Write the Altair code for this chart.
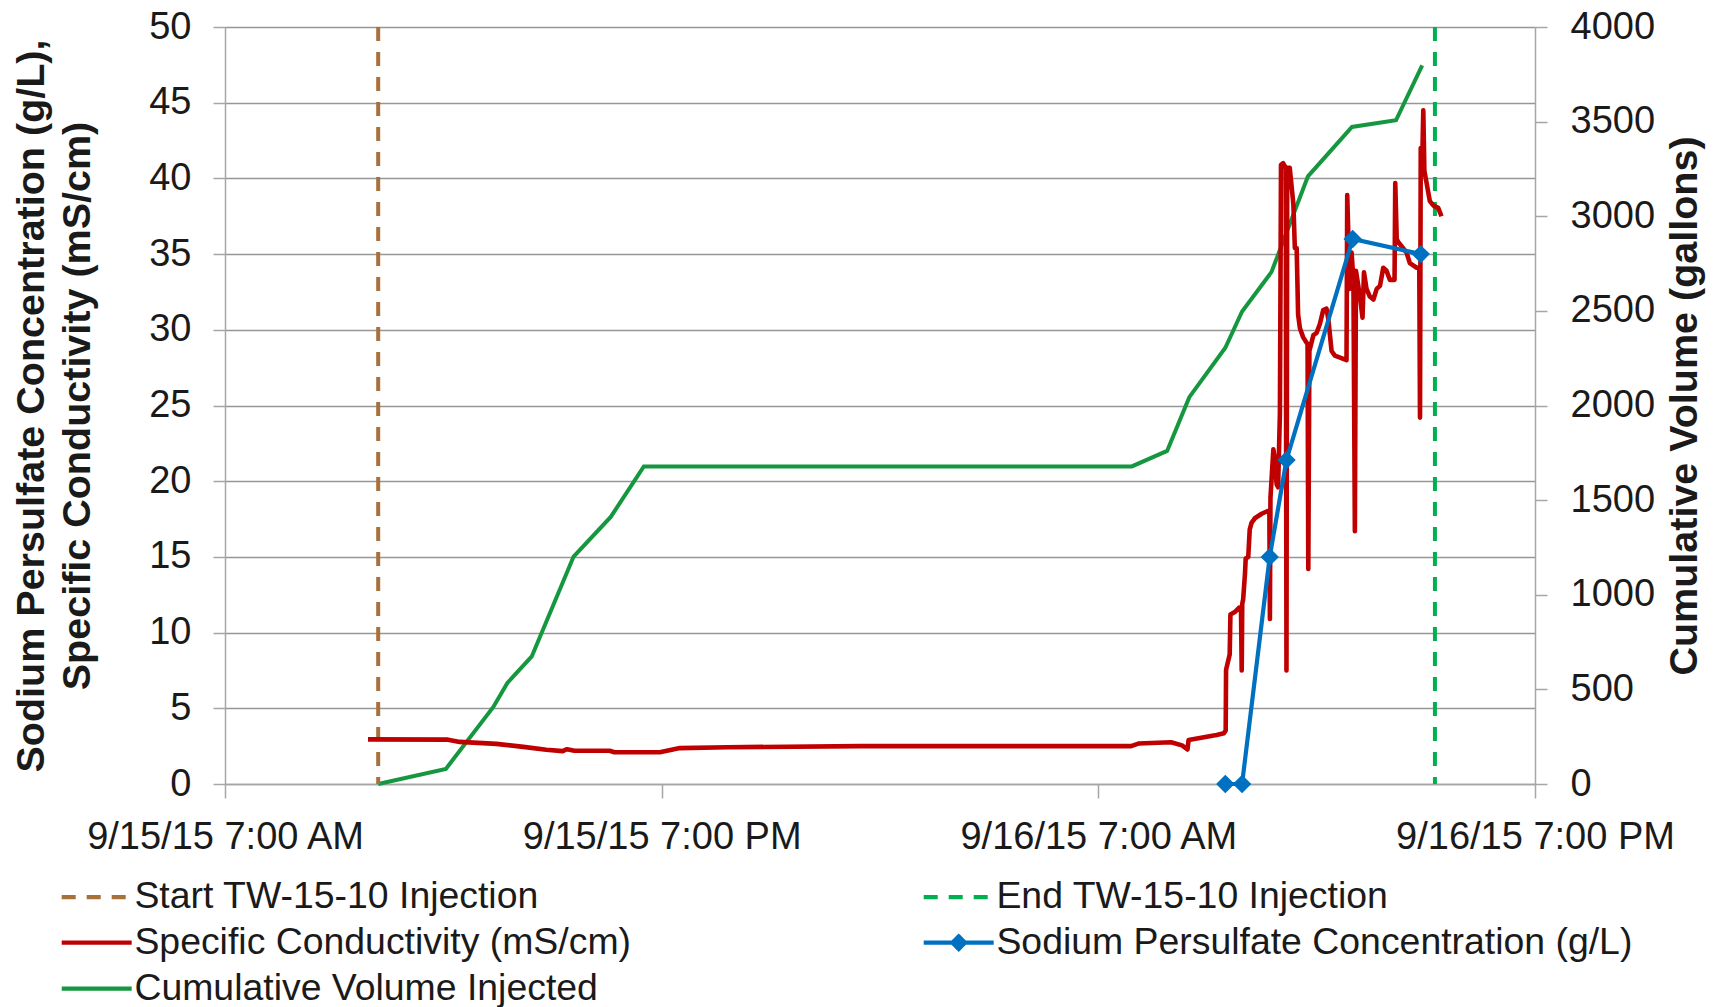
import altair as alt
import pandas as pd

BASE = pd.Timestamp("2015-09-15 07:00")

# legend order (column-major in two columns: left column first, then right)
SERIES = [
    "Start TW-15-10 Injection",
    "Specific Conductivity (mS/cm)",
    "Cumulative Volume Injected",
    "End TW-15-10 Injection",
    "Sodium Persulfate Concentration (g/L)",
]
COLORS = ["#A8703A", "#C00000", "#15973F", "#00B050", "#0070C0"]
BROWN, RED, GREEN, LIGHT_GREEN, BLUE = COLORS

# hours after 9/15/15 7:00 AM
EVENT_HOURS = [4.21, 33.25]
EVENT_NAMES = ["Start TW-15-10 Injection", "End TW-15-10 Injection"]

RED_HOURS = [
    3.93, 6.13, 6.45, 7.46, 8.2, 8.83, 9.28, 9.4, 9.6, 10.57, 10.7, 11.95, 12.5, 13.8,
    17.45, 21.0, 24.9, 25.1, 26.0, 26.3, 26.45, 26.48, 27.25, 27.45, 27.50, 27.51,
    27.52, 27.61, 27.63, 27.75, 27.87, 27.92, 27.94, 27.955, 27.98, 28.03, 28.05,
    28.12, 28.16, 28.21, 28.30, 28.49, 28.67, 28.70, 28.715, 28.73, 28.81, 28.85,
    28.90, 28.94, 28.99, 29.02, 29.08, 29.15, 29.17, 29.19, 29.26, 29.36, 29.40,
    29.45, 29.49, 29.54, 29.63, 29.75, 29.77, 29.80, 29.91, 30.00, 30.09, 30.18,
    30.27, 30.32, 30.41, 30.50, 30.82, 30.84, 30.87, 30.91, 30.96, 31.01, 31.05,
    31.08, 31.19, 31.26, 31.30, 31.37, 31.46, 31.56, 31.65, 31.74, 31.83, 31.92,
    32.01, 32.14, 32.16, 32.20, 32.24, 32.34, 32.47, 32.56, 32.75, 32.82, 32.84,
    32.86, 32.91, 32.93, 32.96, 33.02, 33.11, 33.21, 33.34, 33.43,
]
RED_VALUES = [
    2.95, 2.93, 2.78, 2.65, 2.45, 2.26, 2.17, 2.3, 2.2, 2.2, 2.1, 2.1, 2.37, 2.43,
    2.5, 2.5, 2.5, 2.67, 2.76, 2.55, 2.28, 2.9, 3.24, 3.35, 3.54, 7.5,
    7.65, 8.55, 11.2, 11.36, 11.65, 11.65, 7.5, 11.9, 12.2, 13.9, 14.9,
    15.0, 16.8, 17.25, 17.55, 17.85, 18.05, 18.05, 10.9, 18.9, 22.1, 21.5,
    19.8, 19.6, 24.5, 40.9, 41.0, 40.7, 7.5, 40.7, 40.7, 38.3, 35.4,
    35.4, 31.0, 30.1, 29.5, 29.05, 14.2, 28.6, 29.65, 29.8, 30.4, 31.3,
    31.4, 30.7, 28.6, 28.3, 28.0, 38.9, 36.3, 32.7, 35.1, 33.3, 16.7,
    33.9, 32.2, 30.8, 33.8, 32.7, 32.2, 32.0, 32.7, 32.9, 34.1, 33.9,
    33.3, 33.3, 39.7, 36.0, 35.8, 35.5, 35.1, 34.4, 34.1, 34.1, 24.2,
    42.0, 42.1, 44.5, 40.5, 39.7, 38.5, 38.2, 38.05, 37.5,
]

BLUE_HOURS = [27.49, 27.95, 28.71, 29.17, 30.99, 32.86]
BLUE_VALUES = [0.0, 0.0, 15.0, 21.4, 36.0, 35.0]

GREEN_HOURS = [4.21, 6.07, 7.37, 7.76, 8.43, 9.58, 10.6, 11.51, 24.92, 25.89, 26.5,
               27.49, 27.95, 28.76, 29.76, 30.97, 32.18, 32.9]
GREEN_GALLONS = [0, 80, 406, 534, 674, 1202, 1411, 1678, 1678, 1760, 2044,
                 2305, 2497, 2706, 3211, 3472, 3507, 3797]

LEFT_TICKS = [0, 5, 10, 15, 20, 25, 30, 35, 40, 45, 50]
RIGHT_TICKS = [0, 500, 1000, 1500, 2000, 2500, 3000, 3500, 4000]


def stamp(hours):
    return [(BASE + pd.Timedelta(hours=h)).strftime("%Y-%m-%dT%H:%M:%S") for h in hours]


red_df = pd.DataFrame({"time": stamp(RED_HOURS), "value": RED_VALUES, "series": "Specific Conductivity (mS/cm)"})
blue_df = pd.DataFrame({"time": stamp(BLUE_HOURS), "value": BLUE_VALUES, "series": "Sodium Persulfate Concentration (g/L)"})
green_df = pd.DataFrame({"time": stamp(GREEN_HOURS), "gallons": GREEN_GALLONS, "series": "Cumulative Volume Injected"})
event_df = pd.DataFrame({"time": stamp(EVENT_HOURS), "series": EVENT_NAMES})

FONT = "Liberation Sans"
TEXT = "#1A1A1A"
GRID = "#969696"
AXIS_GRAY = "#A6A6A6"
DASH = [14, 11]
SOLID = [1, 0]


def dt(day, hour):
    return alt.DateTime(year=2015, month=9, date=day, hours=hour)


x_enc = alt.X(
    "time:T",
    scale=alt.Scale(domain=[dt(15, 7), dt(16, 19)]),
    axis=alt.Axis(
        values=[dt(15, 7), dt(15, 19), dt(16, 7), dt(16, 19)],
        format="%-m/%-d/%y %-I:%M %p",
        title=None,
        grid=False,
        labelFlush=False,
        labelOverlap=False,
        labelLimit=600,
        labelFontSize=38,
        labelPadding=20,
        tickSize=14,
    ),
)

left_axis = alt.Axis(
    orient="left",
    values=LEFT_TICKS,
    grid=True,
    gridColor=GRID,
    gridWidth=1.4,
    title=["Sodium Persulfate Concentration (g/L),", "Specific Conductivity (mS/cm)"],
    titleFontSize=39.5,
    titleLineHeight=46,
    titlePadding=51,
    titleLimit=1200,
    labelFontSize=38,
    labelPadding=22,
    tickSize=12,
)
y_left = alt.Y("value:Q", scale=alt.Scale(domain=[0, 50], nice=False), axis=left_axis)

LINE = "M-2.333,0L2.333,0"
LINE_DIAMOND = LINE + "M0,-0.42L0.42,0L0,0.42L-0.42,0Z"

legend = alt.Legend(
    orient="none",
    legendX=-167,
    legendY=851,
    columns=2,
    columnPadding=284,
    rowPadding=7,
    title=None,
    labelFontSize=37.4,
    labelFont=FONT,
    labelColor=TEXT,
    labelLimit=900,
    labelOffset=19,
    symbolSize=900,
    symbolOffset=20,
    symbolStrokeWidth=4.2,
    padding=0,
)

start_rule = alt.Chart(event_df).transform_filter(
    alt.datum.series == "Start TW-15-10 Injection"
).mark_rule(strokeWidth=4, color=BROWN, strokeDash=DASH).encode(x=x_enc)

end_rule = alt.Chart(event_df).transform_filter(
    alt.datum.series == "End TW-15-10 Injection"
).mark_rule(strokeWidth=4, color=LIGHT_GREEN, strokeDash=DASH).encode(x=x_enc)

red = alt.Chart(red_df).mark_line(
    strokeWidth=4.6, strokeJoin="round", color=RED
).encode(x=x_enc, y=y_left)

blue = alt.Chart(blue_df).mark_line(strokeWidth=4.2, color=BLUE).encode(x=x_enc, y=y_left)

blue_pts = alt.Chart(blue_df).mark_point(
    shape="diamond", filled=True, size=340, opacity=1, color=BLUE
).encode(x=x_enc, y=y_left)

ghost = alt.Chart(red_df).transform_filter("false").mark_point(
    filled=False, opacity=1, strokeWidth=4.2
).encode(
    x=x_enc,
    y=y_left,
    color=alt.Color("series:N", scale=alt.Scale(domain=SERIES, range=COLORS), legend=legend),
    fill=alt.Fill("series:N", scale=alt.Scale(domain=SERIES, range=COLORS), legend=legend),
    shape=alt.Shape(
        "series:N",
        scale=alt.Scale(domain=SERIES, range=[LINE, LINE, LINE, LINE, LINE_DIAMOND]),
        legend=legend,
    ),
    strokeDash=alt.StrokeDash(
        "series:N",
        scale=alt.Scale(domain=SERIES, range=[DASH, SOLID, SOLID, DASH, SOLID]),
        legend=legend,
    ),
)

inner = alt.layer(start_rule, end_rule, red, blue, blue_pts, ghost)

green = alt.Chart(green_df).mark_line(strokeWidth=4.0, color=GREEN).encode(
    x=x_enc,
    y=alt.Y(
        "gallons:Q",
        scale=alt.Scale(domain=[0, 4000], nice=False),
        axis=alt.Axis(
            orient="right",
            values=RIGHT_TICKS,
            format="d",
            grid=False,
            title="Cumulative Volume (gallons)",
            titleAngle=270,
            titleBaseline="top",
            titleFontSize=39.5,
            titlePadding=11,
            labelFontSize=38,
            labelPadding=23,
            tickSize=12,
        ),
    ),
)

chart = (
    alt.layer(green, inner)
    .resolve_scale(y="independent")
    .properties(
        width=1310,
        height=757,
        autosize=alt.AutoSizeParams(type="none"),
        padding={"left": 217, "top": 19, "right": 180, "bottom": 223},
    )
    .configure_view(stroke=None)
    .configure_axis(
        labelFont=FONT,
        titleFont=FONT,
        labelColor=TEXT,
        titleColor=TEXT,
        titleFontWeight="bold",
        domainColor=AXIS_GRAY,
        domainWidth=1.5,
        tickColor=AXIS_GRAY,
        tickWidth=1.5,
    )
    .configure_legend(symbolFillColor="transparent", symbolStrokeColor="black")
)

chart.save("out.html", embed_options={"renderer": "svg", "actions": False})
